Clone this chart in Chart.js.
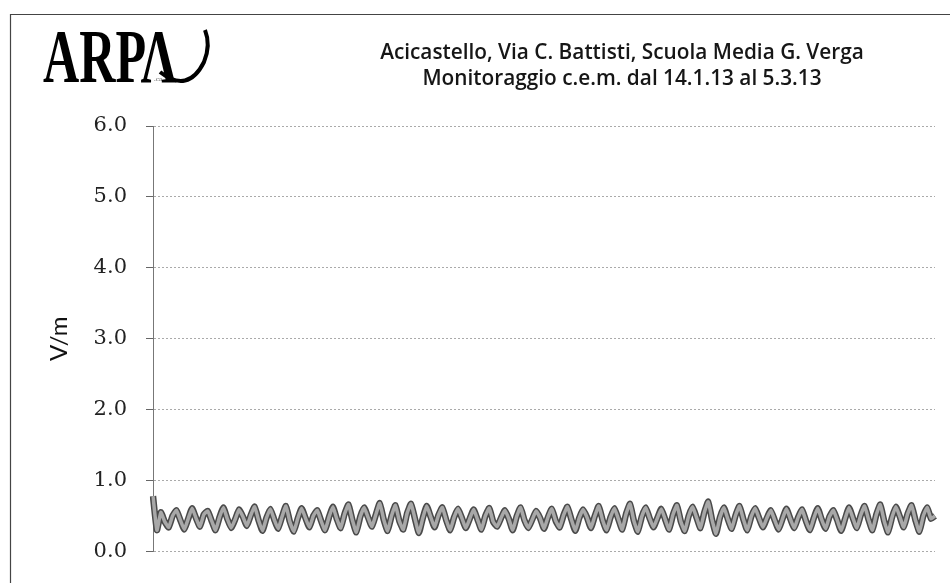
<!DOCTYPE html>
<html>
<head>
<meta charset="utf-8">
<script src="https://cdn.jsdelivr.net/npm/chart.js@4.4.1/dist/chart.umd.min.js"></script>
<style>
  html, body { margin: 0; padding: 0; background: #fff; }
  #wrap { width: 950px; height: 583px; position: relative; }
</style>
</head>
<body>
<div id="wrap"><canvas id="cemChart" width="950" height="583"></canvas></div>
<script>
// giorni di misura (14.1.13 -> 4.3.13) e fasce orarie
const giorni = [
    '14/1','15/1','16/1','17/1','18/1','19/1','20/1','21/1','22/1','23/1',
    '24/1','25/1','26/1','27/1','28/1','29/1','30/1','31/1','1/2','2/2',
    '3/2','4/2','5/2','6/2','7/2','8/2','9/2','10/2','11/2','12/2',
    '13/2','14/2','15/2','16/2','17/2','18/2','19/2','20/2','21/2','22/2',
    '23/2','24/2','25/2','26/2','27/2','28/2','1/3','2/3','3/3','4/3'
];
const fasce = ['00', '06', '12', '18'];

// campo elettrico V/m, 4 valori al giorno
const campoVm = [
    0.78, 0.30, 0.55, 0.42,   0.34, 0.50, 0.58, 0.44,   0.31, 0.46, 0.61, 0.47,
    0.35, 0.52, 0.57, 0.43,   0.30, 0.48, 0.62, 0.46,   0.33, 0.45, 0.59, 0.49,
    0.36, 0.51, 0.63, 0.44,   0.29, 0.47, 0.60, 0.45,   0.32, 0.49, 0.64, 0.42,
    0.28, 0.46, 0.61, 0.47,   0.34, 0.50, 0.58, 0.43,   0.30, 0.48, 0.63, 0.46,
    0.33, 0.53, 0.66, 0.44,   0.27, 0.49, 0.62, 0.48,   0.35, 0.52, 0.68, 0.45,
    0.29, 0.50, 0.65, 0.43,   0.31, 0.54, 0.67, 0.46,   0.26, 0.47, 0.64, 0.49,
    0.34, 0.51, 0.62, 0.44,   0.30, 0.48, 0.60, 0.47,   0.33, 0.46, 0.59, 0.45,
    0.31, 0.50, 0.61, 0.42,   0.35, 0.47, 0.58, 0.46,   0.30, 0.49, 0.62, 0.44,
    0.33, 0.45, 0.57, 0.47,   0.32, 0.48, 0.60, 0.43,   0.34, 0.51, 0.63, 0.45,
    0.29, 0.47, 0.59, 0.48,   0.33, 0.50, 0.64, 0.44,   0.30, 0.48, 0.61, 0.46,
    0.31, 0.53, 0.67, 0.43,   0.28, 0.49, 0.62, 0.47,   0.34, 0.47, 0.60, 0.45,
    0.31, 0.52, 0.65, 0.42,   0.29, 0.50, 0.63, 0.48,   0.33, 0.55, 0.70, 0.44,
    0.25, 0.48, 0.62, 0.46,   0.32, 0.51, 0.64, 0.45,   0.30, 0.49, 0.61, 0.47,
    0.34, 0.47, 0.58, 0.44,   0.31, 0.46, 0.60, 0.46,   0.33, 0.48, 0.59, 0.43,
    0.30, 0.47, 0.61, 0.45,   0.32, 0.49, 0.58, 0.44,   0.29, 0.46, 0.62, 0.47,
    0.33, 0.51, 0.64, 0.45,   0.30, 0.52, 0.66, 0.43,   0.27, 0.48, 0.63, 0.49,
    0.34, 0.53, 0.65, 0.44,   0.28, 0.50, 0.62, 0.46,
    0.50
];

const tickY = [0, 1, 2, 3, 4, 5, 6];

const titolo = [
    'Acicastello, Via C. Battisti, Scuola Media G. Verga',
    'Monitoraggio c.e.m. dal 14.1.13 al 5.3.13'
];

const etichette = giorni.flatMap(g => fasce.map(h => g + ' ' + h));
etichette.push('5/3 00');

// titolo, logo e cornice disegnati a mano
const decorazioni = {
    id: 'decorazioni',
    afterDraw(chart) {
        const ctx = chart.ctx;
        ctx.save();

        // cornice scansionata
        ctx.strokeStyle = '#444';
        ctx.lineWidth = 1.2;
        ctx.beginPath();
        ctx.moveTo(10.5, 583);
        ctx.lineTo(10.5, 14.5);
        ctx.lineTo(950, 14.5);
        ctx.stroke();

        // titolo: dimensione scelta per avere la stessa larghezza della scansione
        ctx.fillStyle = '#161616';
        ctx.textAlign = 'center';
        ctx.textBaseline = 'alphabetic';
        ctx.font = '600 18px "Open Sans"';
        const w = ctx.measureText(titolo[0]).width;
        const size = 18 * 483 / w;
        ctx.font = '600 ' + size.toFixed(1) + 'px "Open Sans"';
        ctx.fillText(titolo[0], 622, 59);
        ctx.fillText(titolo[1], 622, 85);

        // logo ARPA
        ctx.save();
        ctx.translate(43, 82);
        ctx.scale(0.66, 1);
        ctx.font = 'bold 76px "Liberation Serif"';
        ctx.textAlign = 'left';
        ctx.fillStyle = '#000';
        ctx.fillText('ARP', 0, 0);
        ctx.fillText('Λ', 148, 0);
        ctx.restore();
        ctx.strokeStyle = '#000';
        ctx.lineWidth = 4;
        ctx.beginPath();
        ctx.moveTo(160, 72);
        ctx.quadraticCurveTo(188, 94, 204, 62);
        ctx.quadraticCurveTo(211, 45, 205, 30);
        ctx.stroke();
        ctx.font = '7px "Liberation Serif"';
        ctx.fillStyle = '#555';
        ctx.fillText('.ca', 158, 81);

        ctx.restore();
    }
};

const config = {
    type: 'line',
    data: {
        labels: etichette,
        datasets: [
            {
                label: 'V/m',
                data: campoVm,
                borderColor: '#a8a8a8',
                borderWidth: 3.5,
                pointRadius: 0,
                tension: 0.15,
                fill: false
            },
            {
                label: 'bordo',
                data: campoVm,
                borderColor: '#4a4a4a',
                borderWidth: 6.5,
                pointRadius: 0,
                tension: 0.15,
                fill: false
            }
        ]
    },
    options: {
        responsive: false,
        animation: false,
        layout: {
            padding: { left: 28, right: 15, top: 126, bottom: 25 }
        },
        plugins: {
            legend: { display: false },
            title: { display: false },
            tooltip: { enabled: false }
        },
        scales: {
            x: {
                display: false
            },
            y: {
                min: 0,
                max: 6,
                afterFit: function(scale) { scale.width = 125; },
                afterBuildTicks: function(scale) {
                    scale.ticks = tickY.map(v => ({ value: v }));
                },
                grid: {
                    color: '#aaaaaa',
                    lineWidth: 1,
                    tickLength: 7,
                    tickColor: '#666'
                },
                border: { display: true, color: '#777', dash: [2, 2] },
                ticks: {
                    padding: 19,
                    color: '#222',
                    font: { family: '"DejaVu Serif"', size: 21 },
                    callback: function(value) { return value.toFixed(1); }
                },
                title: {
                    display: true,
                    text: 'V/m',
                    color: '#111',
                    font: { family: 'Lato', size: 24 },
                    padding: { top: 17 }
                }
            }
        }
    },
    plugins: [decorazioni]
};

// griglia tratteggiata
config.options.scales.y.grid.borderDash = [2, 3];

new Chart(document.getElementById('cemChart').getContext('2d'), config);
</script>
</body>
</html>
